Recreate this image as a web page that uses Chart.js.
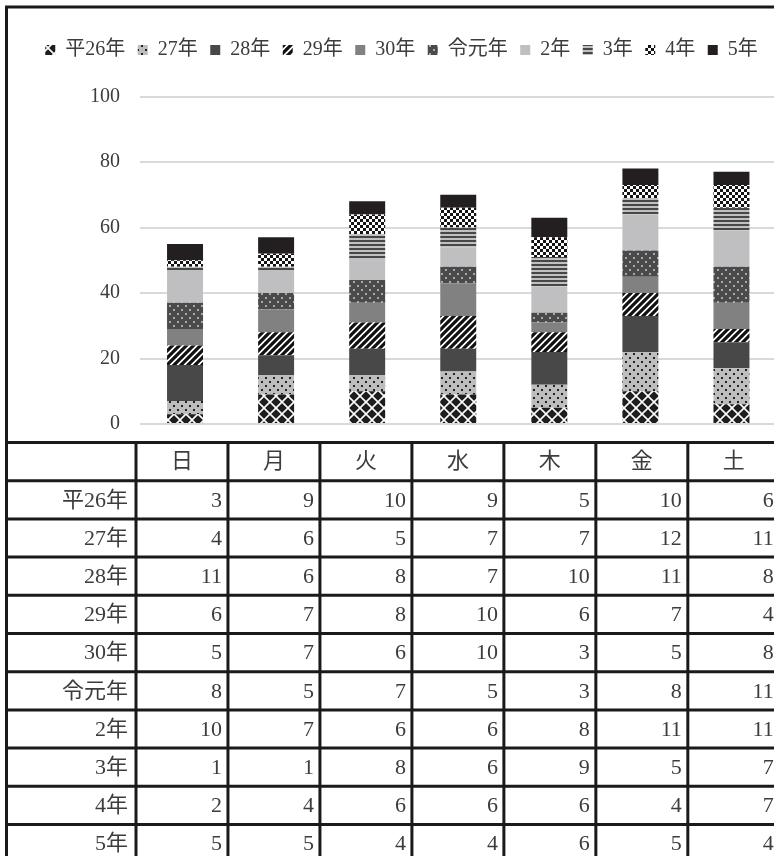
<!DOCTYPE html>
<html>
<head>
<meta charset="utf-8">
<script src="https://cdn.jsdelivr.net/npm/chart.js@4.4.1/dist/chart.umd.min.js"></script>
<style>
  html, body { margin: 0; padding: 0; background: #fff; overflow: hidden; }
  #wrap { width: 780px; height: 856px; }
</style>
</head>
<body>
<div id="wrap"><canvas id="c"></canvas></div>
<script>
// categories and series
var days = ['日', '月', '火', '水', '木', '金', '土'];
var seriesNames = ['平26年', '27年', '28年', '29年', '30年', '令元年', '2年', '3年', '4年', '5年'];

var h26 = [3, 9, 10, 9, 5, 10, 6];
var h27 = [4, 6, 5, 7, 7, 12, 11];
var h28 = [11, 6, 8, 7, 10, 11, 8];
var h29 = [6, 7, 8, 10, 6, 7, 4];
var h30 = [5, 7, 6, 10, 3, 5, 8];
var r1 = [8, 5, 7, 5, 3, 8, 11];
var r2 = [10, 7, 6, 6, 8, 11, 11];
var r3 = [1, 1, 8, 6, 9, 5, 7];
var r4 = [2, 4, 6, 6, 6, 4, 7];
var r5 = [5, 5, 4, 4, 6, 5, 4];
var allValues = [h26, h27, h28, h29, h30, r1, r2, r3, r4, r5];

var yTicks = [0, 20, 40, 60, 80, 100];

var textColor = '#3c3c3c';
var serifFont = '"Liberation Serif", "Noto Sans CJK JP", serif';

var canvas = document.getElementById('c');
var mainCtx = canvas.getContext('2d');

function makePattern(w, h, draw) {
   var tile = document.createElement('canvas');
   tile.width = w;
   tile.height = h;
   var g = tile.getContext('2d');
   draw(g, w, h);
   return mainCtx.createPattern(tile, 'repeat');
}

// diamond lattice, white on black
var pat26 = makePattern(12, 12, function(g, w, h) {
   g.fillStyle = '#1e1e1e';
   g.fillRect(0, 0, w, h);
   g.strokeStyle = '#ffffff';
   g.lineWidth = 1.6;
   g.beginPath();
   g.moveTo(-1, -1); g.lineTo(w + 1, h + 1);
   g.moveTo(w + 1, -1); g.lineTo(-1, h + 1);
   g.stroke();
});
// dark dots on light gray
var pat27 = makePattern(8, 8, function(g, w, h) {
   g.fillStyle = '#bdbdbd';
   g.fillRect(0, 0, w, h);
   g.fillStyle = '#222222';
   g.fillRect(1, 1, 2, 2);
   g.fillRect(5, 5, 2, 2);
});
// wide diagonal stripes
var pat29 = makePattern(7, 7, function(g, w, h) {
   g.fillStyle = '#ffffff';
   g.fillRect(0, 0, w, h);
   g.strokeStyle = '#111111';
   g.lineWidth = 3.2;
   g.beginPath();
   for (var k = -1; k <= 1; k++) {
      g.moveTo(k * w - 1, h + 1);
      g.lineTo(k * w + w + 1, -1);
   }
   g.stroke();
});
// light dots on dark gray
var patR1 = makePattern(8, 8, function(g, w, h) {
   g.fillStyle = '#4a4a4a';
   g.fillRect(0, 0, w, h);
   g.fillStyle = '#a8a8a8';
   g.fillRect(1, 1, 2, 2);
   g.fillRect(5, 5, 2, 2);
});
// horizontal stripes
var patR3 = makePattern(4, 4, function(g, w, h) {
   g.fillStyle = '#c0c0c0';
   g.fillRect(0, 0, w, h);
   g.fillStyle = '#474747';
   g.fillRect(0, 0, w, 2);
});
// small check
var patR4 = makePattern(6, 6, function(g, w, h) {
   g.fillStyle = '#141414';
   g.fillRect(0, 0, w, h);
   g.fillStyle = '#ffffff';
   g.fillRect(0, 0, 3, 3);
   g.fillRect(3, 3, 3, 3);
});

var fills = [pat26, pat27, '#484848', pat29, '#818181', patR1, '#bfbfc1', patR3, patR4, '#231f20'];

var datasets = seriesNames.map(function(name, i) {
   return {
      label: name,
      data: allValues[i],
      backgroundColor: fills[i],
      borderWidth: 0,
      categoryPercentage: 0.395,
      barPercentage: 1
   };
});

// extra room under the legend
var legendGap = 26.5;

var tablePlugin = {
   id: 'dataTable',
   beforeLayout: function(chart) {
      var lg = chart.legend;
      if (lg && !lg._gapAdded) {
         var fit = lg.fit;
         lg.fit = function() {
            fit.call(this);
            this.height += legendGap;
         };
         lg._gapAdded = true;
      }
   },
   afterDraw: function(chart) {
      var ctx = chart.ctx;
      var area = chart.chartArea;
      var xs = chart.scales.x;
      var catW = (xs.right - xs.left) / days.length;
      var colW = catW + 0.9;
      var left = area.left - 3.5;
      var top = area.bottom + 18.5;
      var rowH = 38.2;
      var W = chart.width;
      var H = chart.height;

      ctx.save();
      ctx.strokeStyle = '#1a1a1a';
      ctx.lineWidth = 3;
      ctx.beginPath();
      // outer frame
      ctx.moveTo(5, 7); ctx.lineTo(W, 7);
      ctx.moveTo(6.5, 5.5); ctx.lineTo(6.5, H);
      // table rows
      for (var r = 0; r <= seriesNames.length + 1; r++) {
         ctx.moveTo(5, top + r * rowH);
         ctx.lineTo(W, top + r * rowH);
      }
      // table columns
      for (var c = 0; c <= days.length; c++) {
         ctx.moveTo(left + c * colW, top);
         ctx.lineTo(left + c * colW, H);
      }
      ctx.stroke();

      ctx.fillStyle = textColor;
      ctx.font = '22px ' + serifFont;
      ctx.textBaseline = 'middle';
      ctx.textAlign = 'center';
      days.forEach(function(d, i) {
         ctx.fillText(d, left + (i + 0.5) * colW, top + rowH / 2 + 1);
      });
      seriesNames.forEach(function(name, r) {
         var cy = top + (r + 1.5) * rowH + 1;
         ctx.textAlign = 'right';
         ctx.fillText(name, left - 8, cy);
         allValues[r].forEach(function(v, i) {
            ctx.fillText(String(v), left + (i + 1) * colW - 6, cy);
         });
      });
      ctx.restore();
   }
};

new Chart(canvas, {
   type: 'bar',
   data: {
      labels: days,
      datasets: datasets
   },
   plugins: [tablePlugin],
   options: {
      responsive: true,
      maintainAspectRatio: false,
      animation: false,
      layout: {
         padding: {
            top: 27.5,
            right: 3,
            bottom: 432,
            left: 26
         }
      },
      plugins: {
         legend: {
            position: 'top',
            labels: {
               boxWidth: 10,
               boxHeight: 10,
               padding: 12.5,
               color: textColor,
               font: {
                  family: serifFont,
                  size: 20
               }
            }
         },
         tooltip: {
            enabled: false
         }
      },
      scales: {
         x: {
            stacked: true,
            display: false
         },
         y: {
            stacked: true,
            min: 0,
            max: 100,
            afterFit: function(scale) {
               scale.width = 113.5;
            },
            afterBuildTicks: function(scale) {
               scale.ticks = yTicks.map(function(v) { return { value: v }; });
            },
            border: {
               display: false
            },
            grid: {
               color: '#d9d9d9',
               lineWidth: 2,
               drawTicks: false
            },
            ticks: {
               color: textColor,
               padding: 19.5,
               font: {
                  family: serifFont,
                  size: 20
               }
            }
         }
      }
   }
});
</script>
</body>
</html>
